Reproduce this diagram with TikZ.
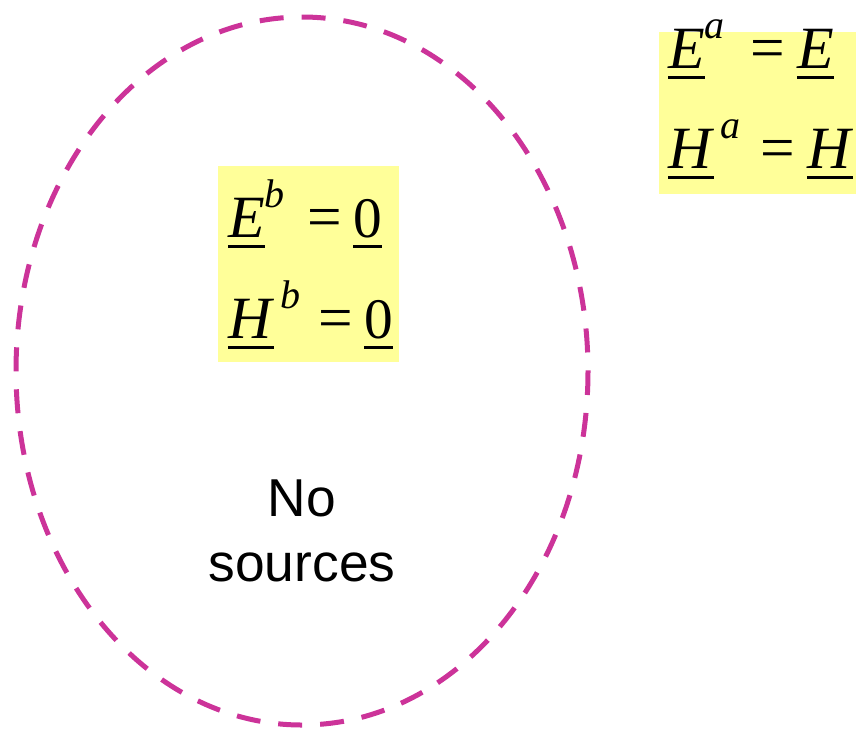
\documentclass[tikz,border=0pt]{standalone}
\usepackage{fontspec}
\setmainfont{Liberation Serif}
\setsansfont{Liberation Sans}
\usetikzlibrary{positioning}
\definecolor{surfmag}{RGB}{204,51,153}
\definecolor{paleyel}{RGB}{255,255,153}
% underlined vector symbol, bar drawn as a rule
\newcommand{\ubar}[1]{\setbox0\hbox{#1}\rlap{\rule[-7.9pt]{\wd0}{2.25pt}}\box0}
\newcommand{\fvec}[1]{\ubar{\fontsize{45}{50}\selectfont\textit{#1}}}
\newcommand{\sidx}[1]{\raisebox{22pt}{\fontsize{30}{30}\selectfont\textit{#1}}}
\newcommand{\eqsign}[1]{\makebox[#1][l]{\fontsize{46}{50}\selectfont=}}

\begin{document}
\begin{tikzpicture}[x=0.75pt, y=-0.75pt,
  field/.style={rectangle, fill=paleyel, inner sep=0pt},
  eqn/.style={anchor=base west, inner sep=0pt, font=\fontsize{43}{50}\selectfont},
  caption/.style={align=center, inner sep=0pt, font=\sffamily\fontsize{40}{48.75}\selectfont},
  surface/.style={draw=surfmag, line width=3.75pt, dash pattern=on 18pt off 13.5pt}
]
\useasboundingbox (0,0) rectangle (856,729);

% closed surface with no sources inside
\draw [surface] (302,371) ellipse [x radius=286, y radius=354];

% fields inside (b) and outside (a)
\node (inbox) [field, minimum width=135.75pt, minimum height=147pt] at (308.5,264) {};
\node (outbox) [field, minimum width=150.75pt, minimum height=121.5pt] at (759.5,113) {};

\node (eb) [eqn] at (228,237) {\makebox[59.25pt][l]{\fvec{E}\sidx{b}}\eqsign{34.5pt}\ubar{0}};
\node (hb) [eqn] at (228,338) {\makebox[67.5pt][l]{\fvec{H}\hspace{5pt}\sidx{b}}\eqsign{34.5pt}\ubar{0}};
\node (ea) [eqn] at (668,68) {\makebox[61.5pt][l]{\fvec{E}\sidx{a}}\eqsign{35.25pt}\fvec{E}};
\node (ha) [eqn] at (668,168) {\makebox[69pt][l]{\fvec{H}\hspace{5pt}\sidx{a}}\eqsign{35.25pt}\fvec{H}};

\node (nosrc) [caption, anchor=base] at (302,581) {No\\sources};
\end{tikzpicture}
\end{document}
